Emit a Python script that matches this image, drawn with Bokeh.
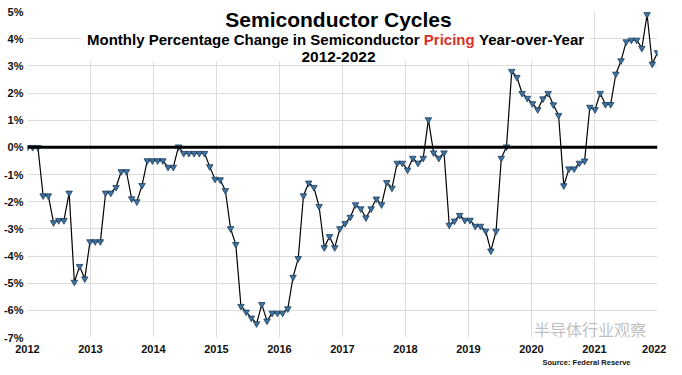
from bokeh.plotting import figure
from bokeh.models import FixedTicker, PrintfTickFormatter, Span, Label, ColumnDataSource, Title
from bokeh.embed import file_html
from bokeh.resources import INLINE

# ---- data (monthly, Jan 2012 .. Feb 2022), % change YoY ----
values_2012 = [0.0, 0.0, 0.0, -1.78, -1.78, -2.77, -2.69, -2.69, -1.68, -4.96, -4.38, -4.84]
values_2013 = [-3.47, -3.47, -3.47, -1.68, -1.68, -1.47, -0.89, -0.89, -1.89, -2.00, -1.40, -0.49]
values_2014 = [-0.49, -0.49, -0.49, -0.73, -0.73, 0.02, -0.22, -0.22, -0.22, -0.22, -0.22, -0.71]
values_2015 = [-1.17, -1.19, -1.59, -2.99, -3.57, -5.85, -6.06, -6.28, -6.49, -5.78, -6.39, -6.10]
values_2016 = [-6.10, -6.10, -5.94, -4.78, -4.09, -1.78, -1.31, -1.47, -2.17, -3.69, -3.28, -3.69]
values_2017 = [-2.99, -2.80, -2.57, -2.11, -2.26, -2.59, -2.26, -1.90, -2.11, -1.29, -1.50, -0.58]
values_2018 = [-0.58, -0.83, -0.40, -0.58, -0.40, 1.02, -0.20, -0.40, -0.20, -2.86, -2.71, -2.50]
values_2019 = [-2.68, -2.68, -2.90, -2.90, -3.08, -3.81, -3.08, -0.40, 0.02, 2.80, 2.58, 1.99]
values_2020 = [1.81, 1.61, 1.39, 1.79, 1.99, 1.57, 1.18, -1.41, -0.79, -0.79, -0.58, -0.50]
values_2021 = [1.48, 1.39, 1.99, 1.58, 1.58, 2.70, 3.19, 3.89, 3.95, 3.95, 3.65, 4.89]
values_2022 = [3.07, 3.49]

years = [2012, 2013, 2014, 2015, 2016, 2017, 2018, 2019, 2020, 2021, 2022]
y_ticks = [-7, -6, -5, -4, -3, -2, -1, 0, 1, 2, 3, 4, 5]

title_text = "Semiconductor Cycles"
subtitle_left = "Monthly Percentage Change in Semiconductor"
subtitle_red = "Pricing"
subtitle_right = "Year-over-Year"
period_text = "2012-2022"
source_text = "Source: Federal Reserve"
watermark_text = "半导体行业观察"

values = (values_2012 + values_2013 + values_2014 + values_2015 + values_2016 +
          values_2017 + values_2018 + values_2019 + values_2020 + values_2021 + values_2022)
n = len(values)
# points evenly spread across the 2012..2022 axis (as in the original chart)
xs = [years[0] + i * (years[-1] - years[0]) / (n - 1) for i in range(n)]
src = ColumnDataSource(data=dict(x=xs, y=values))

FONT = "Liberation Sans"

p = figure(width=666, height=366, x_range=(2012, 2022), y_range=(-7, 5),
           output_backend="svg", toolbar_location=None,
           min_border_left=26, min_border_right=9, min_border_top=11, min_border_bottom=0)
p.outline_line_color = None
p.background_fill_color = "white"
p.border_fill_color = "white"

for g in (p.xgrid, p.ygrid):
    g.grid_line_color = "#dcdcdc"
    g.grid_line_width = 1
p.xgrid.ticker = FixedTicker(ticks=years)
p.ygrid.ticker = FixedTicker(ticks=y_ticks)

for ax in (p.xaxis, p.yaxis):
    ax.axis_line_color = None
    ax.major_tick_line_color = None
    ax.minor_tick_line_color = None
    ax.major_tick_in = 0
    ax.major_tick_out = 0
    ax.major_label_text_font = FONT
    ax.major_label_text_font_style = "bold"
    ax.major_label_text_font_size = "11px"
    ax.major_label_text_color = "#111111"
p.xaxis.ticker = FixedTicker(ticks=years)
p.xaxis.major_label_standoff = 7
p.yaxis.ticker = FixedTicker(ticks=y_ticks)
p.yaxis.formatter = PrintfTickFormatter(format="%d%%")
p.yaxis.major_label_standoff = 4

p.add_layout(Title(text=source_text, align="right", text_font_size="7.5px", text_font=FONT,
                   text_font_style="bold", text_color="#111111", standoff=0, offset=27), "below")

# helpers: map reference pixel positions to data coords (layout only)
def dx(px):
    return 2012 + (px - 30) / 62.8

def dy(py):
    return 5 - (py - 12) / 27.33

# white title panel hiding the grid behind the titles
p.quad(left=dx(84), right=dx(590), bottom=dy(62), top=5, fill_color="white", line_color=None)

p.add_layout(Span(location=0, dimension="width", line_color="black", line_width=3))

p.line("x", "y", source=src, line_color="black", line_width=1.2)
p.scatter("x", "y", source=src, marker="inverted_triangle", size=6.5,
          fill_color="#3f729f", line_color="#1d3f60", line_width=0.8)

def lab(x, y, text, size, align="center", color="black", font=FONT, style="bold", alpha=1.0):
    p.add_layout(Label(x=x, y=y, text=text, text_align=align, text_baseline="middle",
                       text_font=font, text_font_style=style, text_font_size=size,
                       text_color=color, text_alpha=alpha))

lab(dx(340), dy(20), title_text, "21px")
lab(dx(420.8), dy(40), subtitle_left, "15px", align="right")
lab(dx(450.4), dy(40), subtitle_red, "15px", color="#d9322b")
lab(dx(480.1), dy(40), subtitle_right, "15px", align="left")
lab(dx(340), dy(58), period_text, "15.5px")
lab(dx(535), dy(331), watermark_text, "16px", align="left", color="#aaaaaa",
    font="Noto Sans CJK SC", style="normal", alpha=0.75)

open("out.html", "w").write(file_html(p, INLINE))
